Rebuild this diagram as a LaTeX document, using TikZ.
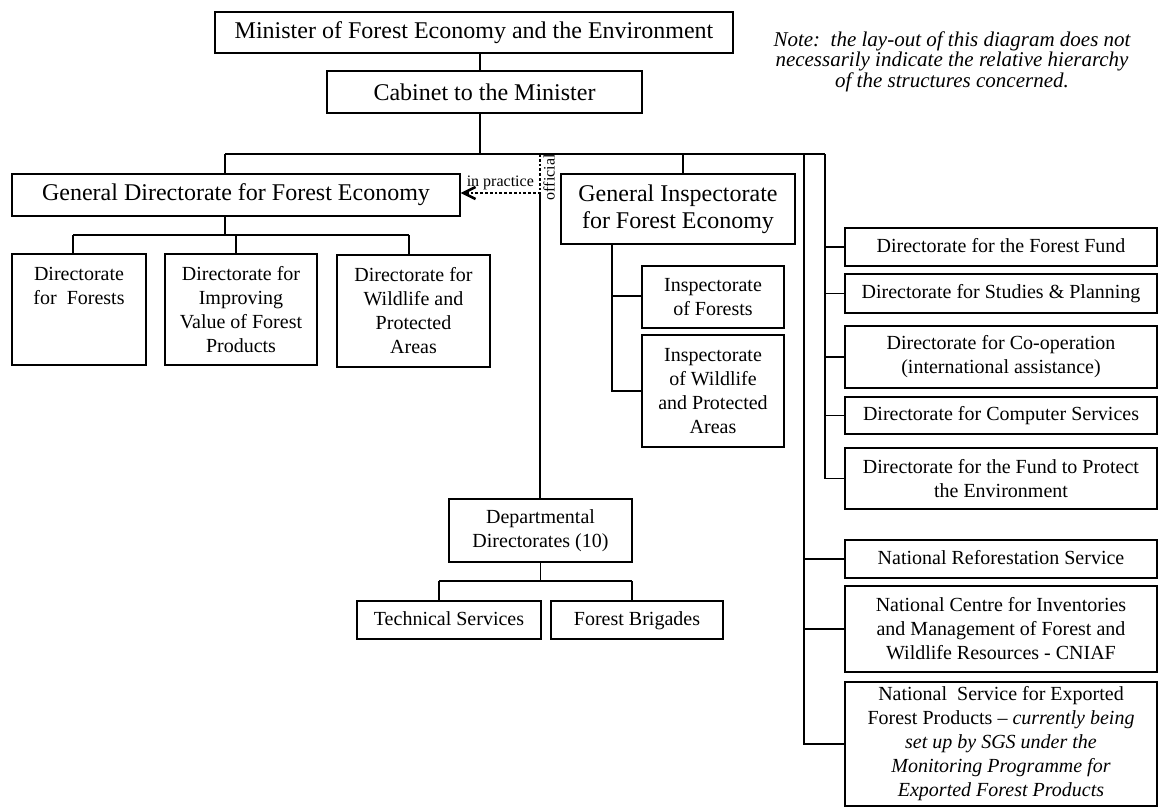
\documentclass[tikz,border=0pt]{standalone}
\usepackage{fontspec}
\setmainfont{Liberation Serif}
\usetikzlibrary{arrows.meta}
\tikzset{
    unit/.style={
           draw, align=center,
           inner sep=0pt,
           font=\fontsize{12}{13.5}\selectfont
           },
    office/.style={
           draw, align=center,
           inner sep=0pt,
           font=\fontsize{10}{12}\selectfont
           },
    oneline/.style={
           text height=7pt,
           text depth=2pt
           },
    remark/.style={
           align=center,
           font=\fontsize{10.5}{9.6}\selectfont\itshape
           },
    tag/.style={
           inner sep=1pt,
           font=\fontsize{8}{9}\selectfont
           },
    practice/.style={
           line width=1.3pt,
           dash pattern=on 1.4pt off 1pt
           }
}
\begin{document}
\begin{tikzpicture}[x=0.5pt, y=-0.5pt, line width=0.6pt, >={Straight Barb[length=6pt,width=6pt]}]
\useasboundingbox (0,0) rectangle (1158,809);
% top of the chart
   \node[unit, minimum width=259pt, minimum height=20.5pt] (m) at (474,32.5) {Minister of Forest Economy and the Environment};
   \node[unit, minimum width=157.5pt, minimum height=21pt] (c) at (484.5,92) {Cabinet to the Minister};
   \node[remark] (note) at (952,62) {Note:\ \ the lay-out of this diagram does not\\necessarily indicate the relative hierarchy\\of the structures concerned.};
% general directorate
   \node[unit, minimum width=224pt, minimum height=21pt] (gd) at (236,195) {General Directorate for Forest Economy};
   \node[office, minimum width=67pt, minimum height=55.5pt] (d1) at (79,309.5) {Directorate\\for\ \ Forests\\~\\~};
   \node[office, minimum width=76pt, minimum height=55.5pt] (d2) at (241,309.5) {Directorate for\\Improving\\Value of Forest\\Products};
   \node[office, minimum width=76.5pt, minimum height=56pt] (d3) at (413.5,311) {Directorate for\\Wildlife and\\Protected\\Areas};
% general inspectorate
   \node[unit, minimum width=117pt, minimum height=35pt] (gi) at (678,209) {General Inspectorate\\for Forest Economy};
   \node[office, minimum width=71pt, minimum height=31pt] (i1) at (713,297) {Inspectorate\\of Forests};
   \node[office, minimum width=71pt, minimum height=56pt] (i2) at (713,391) {Inspectorate\\of Wildlife\\and Protected\\Areas};
% departmental level
   \node[office, minimum width=91.5pt, minimum height=31.5pt] (dd) at (540.5,530.5) {Departmental\\Directorates (10)};
   \node[office, oneline, minimum width=92pt, minimum height=19pt] (ts) at (449,620) {Technical Services};
   \node[office, oneline, minimum width=86pt, minimum height=19pt] (fb) at (637,620) {Forest Brigades};
% right column
   \node[office, oneline, minimum width=156pt, minimum height=19pt] (r1) at (1001,247) {Directorate for the Forest Fund};
   \node[office, oneline, minimum width=156pt, minimum height=19.5pt] (r2) at (1001,293.5) {Directorate for Studies \& Planning};
   \node[office, minimum width=156pt, minimum height=31pt] (r3) at (1001,357) {Directorate for Co-operation\\(international assistance)};
   \node[office, oneline, minimum width=156pt, minimum height=18.5pt] (r4) at (1001,415.5) {Directorate for Computer Services};
   \node[office, minimum width=156pt, minimum height=30.5pt] (r5) at (1001,478.5) {Directorate for the Fund to Protect\\the Environment};
   \node[office, oneline, minimum width=156pt, minimum height=19pt] (r6) at (1001,559) {National Reforestation Service};
   \node[office, minimum width=156pt, minimum height=43pt] (r7) at (1001,629) {National Centre for Inventories\\and Management of Forest and\\Wildlife Resources - CNIAF};
   \node[office, minimum width=156pt, minimum height=62pt] (r8) at (1001,744) {National\ \ Service for Exported\\Forest Products -- \textit{currently being}\\\textit{set up by SGS under the}\\\textit{Monitoring Programme for}\\\textit{Exported Forest Products}};
% junctions
   \coordinate (hub) at (480,154);
   \coordinate (ba) at (225,154);
   \coordinate (bo) at (540,154);
   \coordinate (bk) at (540,193);
   \coordinate (bg) at (683,154);
   \coordinate (bp) at (804,154);
   \coordinate (bb) at (825,154);
   \coordinate (gs) at (225,235);
   \coordinate (g1) at (73,235);
   \coordinate (g2) at (236,235);
   \coordinate (g3) at (409,235);
   \coordinate (ia) at (612,296);
   \coordinate (t1) at (439,581);
   \coordinate (t2) at (632,581);
% connectors
   \draw (m.south -| hub) -- (c.north -| hub);
   \draw (c.south -| hub) -- (hub);
   \draw (ba) -- (bb);
   \draw (ba) -- (ba |- gd.north);
   \draw (bg) -- (bg |- gi.north);
   \draw (bk) -- (bk |- dd.north);
   \draw (gd.south -| gs) -- (gs);
   \draw (g1) -- (g3);
   \foreach \n/\k in {d1/g1, d2/g2, d3/g3}
      \draw (\k) -- (\k |- \n.north);
   \draw (ia |- gi.south) |- (i2.west);
   \draw (ia) -- (ia -| i1.west);
   \draw (dd.south) -- (dd.south |- t1);
   \draw (t1) -- (t2);
   \draw (t1) -- (t1 |- ts.north);
   \draw (t2) -- (t2 |- fb.north);
   \draw (bb) |- (r5.west);
   \foreach \n in {r1,r2,r3,r4}
      \draw (bb |- \n.west) -- (\n.west);
   \draw (bp) |- (r8.west);
   \foreach \n in {r6,r7}
      \draw (bp |- \n.west) -- (\n.west);
   \draw[practice, ->] (bo) -- node[tag, rotate=90, anchor=north, pos=0.6] {official} (bk)
      -- node[tag, above] {in practice} (bk -| gd.east);
\end{tikzpicture}
\end{document}
